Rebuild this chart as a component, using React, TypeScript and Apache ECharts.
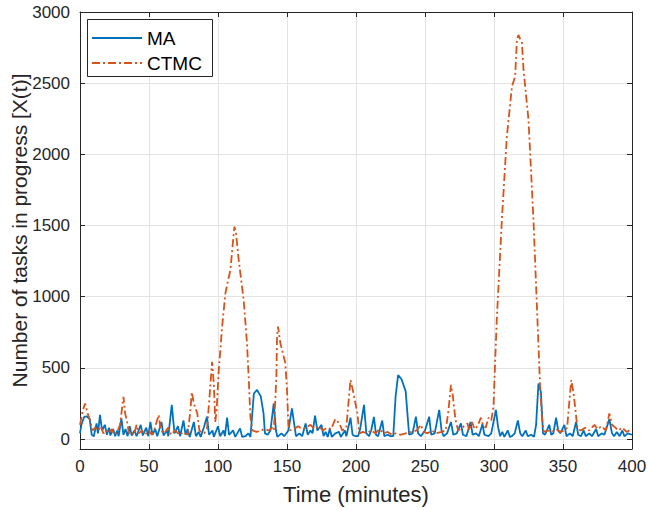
import React, { useEffect, useRef } from "react";
import * as echarts from "echarts";

const maTime = [0,1,3,5,7,8.5,10,12,13,14.5,16,18,19.5,21,22,24,25.5,27,28,30,31.5,33,34.5,36,37.5,39.5,41,44,45.5,48,49.5,51,52.5,54.5,56,59,60.5,63,64,66.5,68.5,71,72.5,75,76.5,78,79.5,82.5,84,86,87.5,90,92,93.5,96,97,100,101.5,104,105,106.6,108,111,112.5,116,117.5,120,122,123.5,126,128.3,131,133,134,136,138,140.4,142,143,146,148,151,153.6,155,156.5,159,161,163.5,165,167,168.5,170.3,172,175,176.5,178,179.5,181,182.5,185,187.7,189,192,193,196,197.5,199.5,201.5,203,205.8,207.5,209.5,211,213,214.5,216,219,220.5,223,225,227,228.7,230.5,233,236,237.5,238.5,241,243.4,245,247,250,253,254.5,257,260.3,262,263.5,266,268.8,270.5,273,276,277.5,280,283,284.5,287,289,291.7,293,296,298,301.4,303,304.5,306,307.5,310,311.5,313,315,317.3,319,320.5,323,324.5,327,329,330.5,332.2,334,335.5,337,340,341.5,343,345,346.5,348,351,352.5,355,357,359.5,361,363,365,366.5,369,371,374,375.5,378,380,383.6,385.5,387,389,391,393,394.5,397,400];
const maValue = [40,100,155,160,140,30,20,110,40,170,60,100,30,80,25,70,20,60,20,145,30,70,20,90,25,60,20,100,25,80,20,120,30,70,20,120,25,60,20,240,40,90,20,130,30,70,15,120,20,50,15,90,157,30,60,15,90,20,60,20,150,30,60,15,75,15,20,40,15,320,345,300,180,40,30,60,250,60,15,40,20,60,215,120,20,40,20,110,30,60,40,165,60,100,20,50,15,70,15,40,50,15,60,20,150,30,20,20,70,240,40,20,60,155,30,20,130,20,30,20,20,300,450,420,335,150,30,40,157,40,20,60,157,30,40,205,60,20,40,120,30,40,110,30,20,120,30,40,20,105,30,20,40,205,80,20,50,15,60,15,20,40,130,40,20,60,20,30,15,100,390,330,40,30,100,30,40,150,60,40,100,20,40,20,120,30,20,60,20,40,20,70,20,40,30,140,40,20,50,20,60,20,40,30];

const ctmcTime = [0,2,3.7,5.5,7.4,9,11,13.4,15,17,19,21,23,25,27,29,31.5,32.7,34,35.5,37,39,41,42.5,45,47,50,52,54,57,58.5,61,64,66,69,72,75,78,80,81,82.5,85,86.5,88,90,92,93.5,95.7,97,98,99,100.4,103,105.4,107,109,110.5,111.9,113,115,118.6,121,122.2,123.5,125,128,131,134,137,139,140.5,142.3,142.8,143.5,145.2,148.8,150,151,152,155,158,161,164,167,170,173,176,179,182,185,188,190,193,194.5,196,198,201,202.5,205,208,211,214,217,220,223,226,229,232,236,240,244,247,249,252,255,258,262,265,267,268.8,270,272,274,277,280.8,282,284,286,288,290.5,292,294,296,298,299.6,302,305.7,309.3,313,315.3,316.6,317.7,319,320.2,321.4,325,328.6,331,333.4,334.7,336,339,342,345,348,351,353,354.5,356,357.5,358.5,360.5,363,366,369,372.8,375,378,381,383.6,385.5,388,390,393,396,398,400];
const ctmcValue = [100,200,250,180,130,60,80,60,90,40,60,40,70,30,50,100,297,180,130,40,50,30,100,40,60,30,60,30,70,170,60,40,80,30,60,30,50,30,200,330,250,180,60,50,40,70,250,543,380,120,200,463,790,1026,1100,1188,1350,1492,1450,1258,977,674,438,150,60,50,60,70,60,80,60,438,720,790,674,534,345,100,60,70,90,70,80,100,70,90,60,80,70,140,110,60,80,250,415,330,180,40,50,40,60,40,70,40,50,30,40,30,40,50,60,100,50,40,60,40,50,60,200,380,320,140,60,80,110,60,120,70,90,150,100,80,150,130,227,836,1539,2124,2476,2546,2804,2839,2810,2792,2593,2242,1539,955,367,157,50,60,50,70,50,60,80,250,415,330,250,70,60,80,60,100,70,90,60,180,100,80,60,80,50,60,70];

const xTicks = [0, 50, 100, 150, 200, 250, 300, 350, 400];
const yTicks = [0, 500, 1000, 1500, 2000, 2500, 3000];
const legendNames = ["MA", "CTMC"];
const seriesColors = ["#0072BD", "#D95319"];

const FONT = "'Liberation Sans', Arial, sans-serif";
const TXT = "#262626";

export default function App() {
  const ref = useRef<HTMLDivElement>(null);
  useEffect(() => {
    if (!ref.current) return;
    const chart = echarts.init(ref.current, undefined, { renderer: "svg" });
    const maData = maTime.map((t, i) => [t, maValue[i]]);
    const ctmcData = ctmcTime.map((t, i) => [t, ctmcValue[i]]);
    const commonX = {
      type: "value" as const,
      min: xTicks[0],
      max: xTicks[xTicks.length - 1],
      interval: 50,
      axisLine: { show: true, onZero: false, lineStyle: { color: TXT, width: 1 } },
      axisTick: { show: true, inside: true, length: 5, lineStyle: { color: TXT } },
    };
    const commonY = {
      type: "value" as const,
      min: -70,
      max: 3000,
      axisLine: { show: true, onZero: false, lineStyle: { color: TXT, width: 1 } },
      axisTick: { show: true, inside: true, length: 5, customValues: yTicks, lineStyle: { color: TXT } },
    };
    const dashes = [null, [8, 3, 2, 3]];
    chart.setOption({
      animation: false,
      textStyle: { fontFamily: FONT },
      grid: { left: 80, top: 12, width: 552, height: 437, containLabel: false, outerBoundsMode: "none" },
      graphic: [
        {
          type: "rect",
          shape: { x: 87.5, y: 19.5, width: 125, height: 57 },
          style: { fill: "#ffffff", stroke: TXT, lineWidth: 1 },
          z: 100,
        },
        ...legendNames.flatMap((name, i) => [
          {
            type: "line",
            shape: { x1: 92, y1: 38 + i * 25, x2: 142, y2: 38 + i * 25 },
            style: { stroke: seriesColors[i], lineWidth: 1.8, lineDash: dashes[i] || undefined },
            z: 101,
          },
          {
            type: "text",
            x: 147,
            y: 38 + i * 25,
            style: { text: name, fill: "#000", font: `19px ${FONT}`, textVerticalAlign: "middle", verticalAlign: "middle" },
            z: 101,
          },
        ]),
      ],
      xAxis: [
        {
          ...commonX,
          position: "bottom",
          name: "Time (minutes)",
          nameLocation: "middle",
          nameGap: 34,
          nameMoveOverlap: false,
          nameTextStyle: { fontFamily: FONT, fontSize: 22, color: TXT },
          axisLabel: { show: true, fontFamily: FONT, fontSize: 17, color: TXT, margin: 9, formatter: (v: number) => String(v) },
          splitLine: { show: true, lineStyle: { color: "#e3e3e3", width: 1 } },
        },
        {
          ...commonX,
          position: "top",
          axisLabel: { show: false },
          splitLine: { show: false },
        },
      ],
      yAxis: [
        {
          ...commonY,
          position: "left",
          name: "Number of tasks in progress [X(t)]",
          nameLocation: "middle",
          nameGap: 50,
          nameMoveOverlap: false,
          nameTextStyle: { fontFamily: FONT, fontSize: 21, color: TXT },
          axisLabel: { show: true, customValues: yTicks, fontFamily: FONT, fontSize: 17, color: TXT, margin: 10, formatter: (v: number) => String(v) },
          splitLine: { show: true, lineStyle: { color: "#e3e3e3", width: 1 } },
        },
        {
          ...commonY,
          position: "right",
          axisLabel: { show: false },
          splitLine: { show: false },
        },
      ],
      series: [
        {
          name: legendNames[0],
          type: "line",
          data: maData,
          symbol: "none",
          showSymbol: false,
          itemStyle: { color: seriesColors[0] },
          lineStyle: { color: seriesColors[0], width: 1.8 },
        },
        {
          name: legendNames[1],
          type: "line",
          data: ctmcData,
          symbol: "none",
          showSymbol: false,
          itemStyle: { color: seriesColors[1] },
          lineStyle: { color: seriesColors[1], width: 1.8, type: dashes[1] },
        },
      ],
    });
    return () => chart.dispose();
  }, []);
  return <div ref={ref} style={{ width: 649, height: 510, position: "absolute", left: 0, top: 0 }} />;
}
